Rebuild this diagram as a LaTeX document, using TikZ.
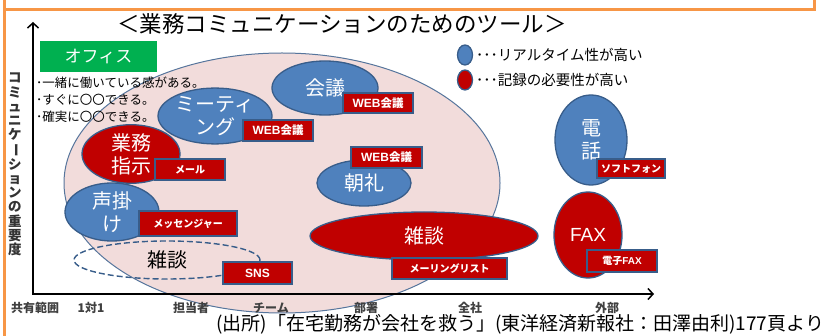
\documentclass[tikz,border=0pt]{standalone}
\usepackage{graphicx}
\usepackage{fontspec}
\setmainfont{Noto Sans CJK JP}
\newfontfamily\lat{Liberation Sans}
\usetikzlibrary{shapes.geometric,arrows.meta}
\definecolor{oblue}{HTML}{4F81BD}
\definecolor{oblueline}{HTML}{385D8A}
\definecolor{ored}{HTML}{C00000}
\definecolor{opink}{HTML}{F2DCDB}
\definecolor{ogreen}{HTML}{00B050}
\definecolor{oorange}{HTML}{F79646}
\newcommand{\tglat}[1]{{\lat\fontsize{12}{14}\selectfont #1}}
\newcommand{\tgkan}[1]{{\fontsize{11.5}{14}\selectfont #1}}
\newcommand{\vbar}{\rotatebox[origin=c]{-90}{ー}}
\tikzset{
  ell/.style={ellipse, inner sep=0pt, line width=1.3pt, draw=oblueline, text=white, align=center, font=\fontsize{20}{23}\selectfont},
  blueell/.style={ell, fill=oblue},
  redell/.style={ell, fill=ored},
  tag/.style={rectangle, fill=ored, draw=oblueline, line width=1.3pt, text=white, inner sep=0pt, font=\bfseries\fontsize{10}{12}\selectfont},
  axislbl/.style={text=black!75, font=\bfseries\fontsize{12}{14}\selectfont, inner sep=0pt},
}
\begin{document}
\begin{tikzpicture}[x=1pt,y=-1pt]
\useasboundingbox (0,0) rectangle (832,336);
\fill[white] (0,0) rectangle (832,336);
% frame
\draw[oorange, line width=3pt] (4.5,0) -- (4.5,336);
\draw[oorange, line width=3pt] (4.5,10) -- (814,10) -- (814,0);
% office area
\node[ellipse, fill=opink, draw=oblueline!85, line width=1pt, minimum width=436pt, minimum height=260pt, inner sep=0pt] (office) at (282,183) {};
% axes
\coordinate (origin) at (33,294);
\coordinate (ytop) at (33,22);
\coordinate (xend) at (654,294);
\draw[line width=1.5pt, {Straight Barb[length=5pt,width=11pt]}-{Straight Barb[length=5pt,width=11pt]}] (ytop) -- (origin) -- (xend);
% title
\node[font=\fontsize{22.5}{26}\selectfont, inner sep=0pt] (title) at (342,24) {＜業務コミュニケーションのためのツール＞};
% office label
\node[fill=ogreen, minimum width=117pt, minimum height=31pt, text=white, font=\fontsize{17}{20}\selectfont, inner sep=0pt] (officelbl) at (98.5,56.5) {オフィス};
\node[anchor=west, font=\fontsize{12.5}{17}\selectfont, align=left, inner sep=0pt] (bullets) at (36,100) {･一緒に働いている感がある。\\･すぐに〇〇できる。\\･確実に〇〇できる。};
% legend
\node[blueell, minimum width=15pt, minimum height=20pt] (legb) at (465,55) {};
\node[redell, minimum width=15pt, minimum height=20pt] (legr) at (465,80) {};
\node[anchor=west, font=\fontsize{14.5}{16}\selectfont, inner sep=0pt] (legbt) at (476,55) {･･･リアルタイム性が高い};
\node[anchor=west, font=\fontsize{14.5}{16}\selectfont, inner sep=0pt] (legrt) at (476,80) {･･･記録の必要性が高い};
% tools
\node[blueell, minimum width=106pt, minimum height=54pt] (kaigi) at (325,88) {会議};
\node[blueell, minimum width=114pt, minimum height=42pt] (meeting) at (215,116) {ミーティ\\ング};
\node[redell, minimum width=98pt, minimum height=58pt] (gyomu) at (131,154) {業務\\指示};
\node[blueell, minimum width=94pt, minimum height=50pt] (koekake) at (112,212) {声掛\\け};
\node[ell, draw=oblueline, line width=1.4pt, dash pattern=on 6pt off 3pt, text=black, minimum width=186pt, minimum height=38pt] (zatsu1) at (167,260) {雑談};
\node[blueell, minimum width=94pt, minimum height=46pt] (chorei) at (364,183) {朝礼};
\node[redell, minimum width=228pt, minimum height=48pt] (zatsu2) at (424,236) {雑談};
\node[blueell, minimum width=72pt, minimum height=90pt] (denwa) at (591,140) {電\\話};
\node[redell, minimum width=68pt, minimum height=86pt] (fax) at (588,235) {{\lat\fontsize{19}{22}\selectfont FAX}};
% tags
\node[tag, minimum width=70pt, minimum height=20pt] (t1) at (378,103) {\tglat{WEB}\tgkan{会議}};
\node[tag, minimum width=70pt, minimum height=21pt] (t2) at (278,130.5) {\tglat{WEB}\tgkan{会議}};
\node[tag, minimum width=70pt, minimum height=21pt] (t3) at (190,169.5) {メール};
\node[tag, minimum width=98pt, minimum height=25pt] (t4) at (188,223.5) {メッセンジャー};
\node[tag, minimum width=69pt, minimum height=22pt] (t5) at (257.5,273) {\tglat{SNS}};
\node[tag, minimum width=71pt, minimum height=21pt] (t6) at (386.5,157.5) {\tglat{WEB}\tgkan{会議}};
\node[tag, minimum width=115pt, minimum height=21pt] (t7) at (449.5,268.5) {メーリングリスト};
\node[tag, minimum width=68pt, minimum height=19pt] (t8) at (631,168.5) {ソフトフォン};
\node[tag, minimum width=70pt, minimum height=22pt] (t9) at (622,261) {電子{\lat FAX}};
% axis labels
\node[font=\bfseries\fontsize{13.5}{14.2}\selectfont, text=black!80, align=center, inner sep=0pt, anchor=north] (ylbl) at (15,73) {コ\\ミ\\ュ\\ニ\\ケ\\\vbar\\シ\\ョ\\ン\\の\\重\\要\\度};
\node[axislbl] (x0) at (35,308) {共有範囲};
\node[axislbl] (x1) at (91,308) {1対1};
\node[axislbl] (x2) at (191,308) {担当者};
\node[axislbl] (x3) at (271,308) {チーム};
\node[axislbl] (x4) at (366,308) {部署};
\node[axislbl] (x5) at (470,308) {全社};
\node[axislbl] (x6) at (607,308) {外部};
% source
\node[anchor=west, font=\fontsize{19}{21}\selectfont, inner sep=0pt] (src) at (216,324) {(出所)「在宅勤務が会社を救う」(東洋経済新報社：田澤由利)177頁より};
\end{tikzpicture}
\end{document}
